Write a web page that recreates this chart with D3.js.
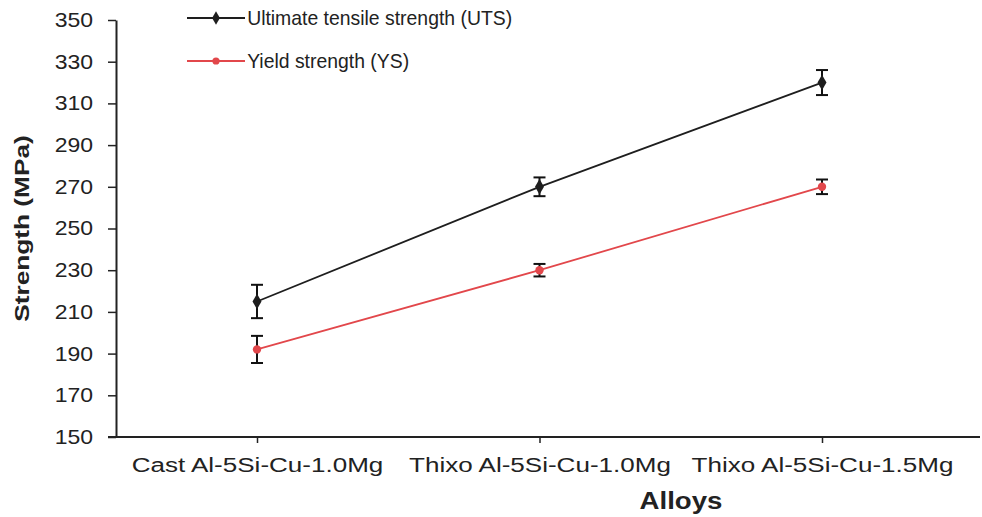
<!DOCTYPE html>
<html>
<head>
<meta charset="utf-8">
<script src="https://cdn.jsdelivr.net/npm/d3@7"></script>
<style>
  body { margin: 0; background: #fff; }
  svg text { font-family: "Liberation Sans", Arial, sans-serif; fill: #222; }
</style>
</head>
<body>
<div id="chart"></div>
<script>
const alloys = ["Cast Al-5Si-Cu-1.0Mg", "Thixo Al-5Si-Cu-1.0Mg", "Thixo Al-5Si-Cu-1.5Mg"];
const uts = [215, 270, 320];
const utsErr = [8, 4.5, 6];
const ys = [192, 230, 270];
const ysErr = [6.5, 3, 3.5];
const yTicks = [150, 170, 190, 210, 230, 250, 270, 290, 310, 330, 350];

const series = [
  { name: "Ultimate tensile strength (UTS)", values: uts, err: utsErr, color: "#1e1e1e", marker: d3.symbolDiamond, size: 70 },
  { name: "Yield strength (YS)", values: ys, err: ysErr, color: "#e2474b", marker: d3.symbolCircle, size: 55 }
];

var width = 982, height = 517;
var plotLeft = 116, plotTop = 20, plotBottom = 437, plotRight = 980;

var svg = d3.select("#chart").append("svg")
  .attr("width", width)
  .attr("height", height);

var x = d3.scalePoint().domain(alloys).range([257, 822]);
var y = d3.scaleLinear().domain([150, 350]).range([plotBottom, plotTop]);

// Y axis
var yAxis = svg.append("g")
  .attr("transform", "translate(" + plotLeft + ",0)")
  .call(d3.axisLeft(y).tickValues(yTicks).tickSize(8).tickSizeOuter(0));
yAxis.select(".domain").attr("stroke", "#222").attr("stroke-width", 2);
yAxis.selectAll(".tick line").attr("stroke", "#222").attr("stroke-width", 1.5);
yAxis.selectAll("text")
  .style("font-size", "20px")
  .attr("fill", "#26262f")
  .attr("x", -23 / 1.15)
  .attr("transform", "scale(1.15,1)");

// X axis
var xAxis = svg.append("g")
  .attr("transform", "translate(0," + plotBottom + ")")
  .call(d3.axisBottom(x).tickSize(6).tickSizeOuter(0));
xAxis.select(".domain").remove();
xAxis.append("line")
  .attr("x1", plotLeft - 8).attr("x2", plotRight)
  .attr("stroke", "#222").attr("stroke-width", 2);
xAxis.selectAll(".tick line").attr("stroke", "#222").attr("stroke-width", 1.5);
xAxis.selectAll("text")
  .style("font-size", "21px")
  .attr("fill", "#2a2a35")
  .attr("y", 20)
  .attr("transform", "scale(1.24,1)");

// Axis titles
svg.append("text")
  .attr("transform", "translate(29," + (plotTop + plotBottom) / 2 + ") rotate(-90) scale(1.25,1)")
  .attr("text-anchor", "middle")
  .style("font-size", "21px")
  .style("font-weight", "bold")
  .text("Strength (MPa)");

svg.append("text")
  .attr("transform", "translate(681,509) scale(1.15,1)")
  .attr("text-anchor", "middle")
  .style("font-size", "24px")
  .style("font-weight", "bold")
  .text("Alloys");

// Series
series.forEach(function (s) {
  var line = d3.line()
    .x(function (d, i) { return x(alloys[i]); })
    .y(function (d) { return y(d); });

  svg.append("path")
    .datum(s.values)
    .attr("fill", "none")
    .attr("stroke", s.color)
    .attr("stroke-width", 1.8)
    .attr("d", line);

  var g = svg.append("g");
  s.values.forEach(function (v, i) {
    var cx = x(alloys[i]);
    var y1 = y(v + s.err[i]), y2 = y(v - s.err[i]);
    g.append("line").attr("x1", cx).attr("x2", cx).attr("y1", y1).attr("y2", y2)
      .attr("stroke", "#111").attr("stroke-width", 2);
    g.append("line").attr("x1", cx - 6).attr("x2", cx + 6).attr("y1", y1).attr("y2", y1)
      .attr("stroke", "#111").attr("stroke-width", 2);
    g.append("line").attr("x1", cx - 6).attr("x2", cx + 6).attr("y1", y2).attr("y2", y2)
      .attr("stroke", "#111").attr("stroke-width", 2);
    g.append("path")
      .attr("d", d3.symbol().type(s.marker).size(s.size))
      .attr("transform", "translate(" + cx + "," + y(v) + ")")
      .attr("fill", s.color);
  });
});

// Legend
series.forEach(function (s, i) {
  var ly = 18 + i * 43;
  var lg = svg.append("g").attr("transform", "translate(187," + ly + ")");
  lg.append("line").attr("x1", 0).attr("x2", 58)
    .attr("stroke", s.color).attr("stroke-width", 1.8);
  lg.append("path")
    .attr("d", d3.symbol().type(s.marker).size(s.size * 0.75))
    .attr("transform", "translate(29,0)")
    .attr("fill", s.color);
  lg.append("text")
    .attr("x", 62)
    .attr("y", 7)
    .style("font-size", "20px")
    .attr("transform", "scale(0.97,1)")
    .attr("fill", "#2a2a35")
    .text(s.name);
});
</script>
</body>
</html>
